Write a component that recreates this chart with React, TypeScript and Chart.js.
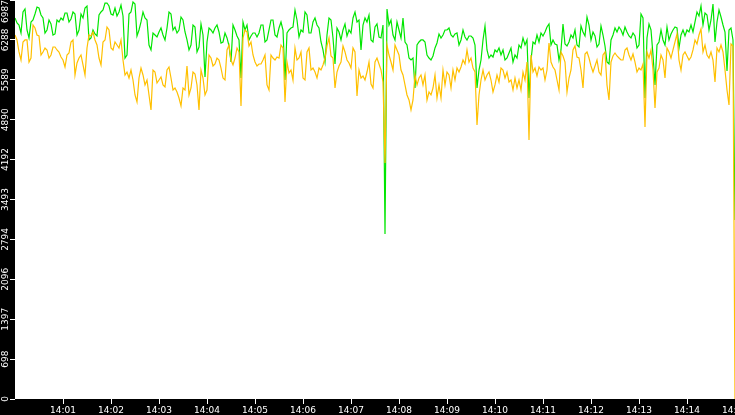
import React, { useEffect, useRef } from "react";
import { Chart, registerables } from "chart.js";

Chart.register(...registerables);

// one sample every 2.5 seconds, 14:00:00 .. 14:15:00
const greenValues = [
  6672, 6584, 6549, 6409, 6777, 6829, 6462, 6322, 6602, 6637,
  6742, 6864, 6847, 6724, 6672, 6409, 6462, 6637, 6567, 6374,
  6392, 6637, 6602, 6672, 6637, 6759, 6759, 6602, 6654, 6777,
  6742, 6374, 6462, 6742, 6672, 6847, 6882, 6287, 6322, 6462,
  6392, 6357, 6724, 6777, 6812, 6934, 6934, 6882, 6742, 6724,
  6847, 6707, 6777, 6899, 6707, 5971, 6024, 6742, 6777, 6952,
  6917, 6357, 6462, 6602, 6777, 6672, 6637, 6199, 6112, 6409,
  6374, 6339, 6427, 6497, 6374, 6287, 6497, 6777, 6742, 6462,
  6514, 6409, 6462, 6689, 6637, 6427, 6287, 6112, 6199, 6549,
  6514, 6077, 6164, 6567, 6374, 5639, 6252, 6497, 6462, 6409,
  6497, 6549, 6427, 6234, 6252, 6409, 6322, 6182, 5901, 6549,
  6462, 6357, 6287, 5621, 6602, 6462, 6549, 6287, 6357, 6409,
  6409, 6339, 6409, 6549, 6549, 6252, 6287, 6462, 6637, 6637,
  6374, 6339, 6497, 6602, 6462, 5586, 6409, 6462, 6497, 6514,
  6812, 6637, 6339, 6462, 6427, 6777, 6724, 6409, 6409, 6602,
  6672, 6549, 6497, 6252, 6112, 5901, 6374, 6672, 6637, 6322,
  5866, 6497, 6427, 6287, 6462, 6567, 6357, 6462, 6409, 6672,
  6777, 6602, 6637, 6112, 6549, 6672, 6602, 6724, 6287, 6252,
  6514, 6567, 6339, 6322, 6549, 2890, 6829, 6549, 6637, 6374,
  6287, 6602, 6462, 6322, 6672, 6252, 6199, 5971, 5936, 5971,
  5446, 6199, 6252, 6287, 6287, 6252, 6024, 5971, 5936, 6007,
  6147, 6234, 6392, 6322, 6374, 6462, 6462, 6497, 6374, 6339,
  6392, 6409, 6199, 6287, 6462, 6339, 6287, 6357, 6357, 6322,
  6199, 5446, 5761, 5936, 6287, 6532, 6112, 5971, 6024, 5989,
  6112, 6077, 6147, 6024, 6112, 5936, 5971, 6059, 6147, 5901,
  6024, 5971, 6199, 6147, 6322, 6199, 6287, 5271, 5936, 6252,
  6217, 6374, 6252, 6409, 6357, 6427, 6514, 6567, 6199, 6287,
  6217, 6199, 5936, 6112, 6567, 6217, 6182, 6252, 6374, 6322,
  6462, 6199, 6164, 6532, 6427, 6357, 6689, 6549, 6287, 6427,
  6357, 6164, 6217, 6532, 6374, 6182, 5901, 5866, 6287, 6374,
  6497, 6427, 6514, 6462, 6374, 6514, 6427, 6357, 6322, 6409,
  6357, 6147, 6199, 6742, 6672, 5271, 6322, 6567, 6462, 6024,
  5499, 6199, 6252, 6462, 6287, 6199, 6514, 6287, 6392, 6462,
  6514, 6497, 6147, 6374, 6462, 6357, 6462, 6427, 6549, 6427,
  6602, 6777, 6707, 6882, 6549, 6759, 6724, 6462, 6637, 6917,
  6252, 6602, 6812, 6689, 6549, 6427, 5744, 6462, 6497, 6287,
  3135,
];

const orangeValues = [
  6374, 6287, 6077, 5936, 6252, 6287, 6287, 5901, 5971, 6549,
  6497, 6374, 6357, 6024, 6077, 6147, 6112, 5971, 6024, 6164,
  6164, 6112, 6077, 5989, 5936, 5814, 6024, 6059, 6252, 6287,
  5674, 5884, 5971, 6024, 5849, 5674, 6147, 6374, 6357, 6427,
  6287, 6199, 5971, 5849, 6252, 6287, 6514, 6462, 6147, 6112,
  6252, 6199, 6147, 6287, 5936, 5674, 5726, 5621, 5761, 5586,
  5324, 5201, 5621, 5796, 5674, 5499, 5586, 5324, 5061, 5761,
  5726, 5534, 5586, 5639, 5499, 5464, 5761, 5814, 5621, 5411,
  5446, 5376, 5271, 5131, 5446, 5411, 5831, 5324, 5446, 5726,
  5691, 5499, 5061, 5761, 5621, 5324, 5411, 6024, 5971, 5831,
  5866, 5971, 5936, 5796, 5621, 5586, 6112, 6199, 5936, 5849,
  5971, 6147, 6077, 5131, 6322, 6462, 6427, 6182, 6252, 6024,
  5901, 5831, 5866, 5866, 5936, 6024, 5499, 5411, 6024, 5971,
  5936, 5989, 5971, 6199, 6147, 5201, 5901, 5709, 5761, 5586,
  6147, 5936, 5971, 6077, 5621, 5586, 6077, 6147, 5761, 5796,
  5726, 5621, 5796, 5761, 5849, 5971, 6182, 6322, 6007, 5971,
  5446, 5726, 5831, 5901, 6182, 6077, 5936, 5884, 5796, 6147,
  6077, 5306, 5761, 5621, 5656, 5586, 5726, 5901, 5516, 5446,
  5901, 5971, 5866, 5761, 5551, 4133, 6199, 6024, 5901, 5761,
  6199, 6112, 6024, 5761, 5674, 5499, 5324, 5236, 5061, 5236,
  5674, 5499, 5621, 5674, 5499, 5674, 5236, 5376, 5324, 5446,
  5674, 5271, 5499, 5271, 5761, 5499, 5726, 5674, 5446, 5761,
  5586, 5796, 5726, 5814, 5936, 5866, 6112, 5901, 5971, 5796,
  5726, 4798, 5324, 5586, 5761, 5586, 5674, 5726, 5586, 5376,
  5499, 5674, 5551, 5796, 5761, 5621, 5726, 5551, 5586, 5411,
  5621, 5446, 5586, 5411, 5726, 5586, 5901, 4536, 6024, 5726,
  5796, 5656, 5814, 5761, 5796, 5586, 5761, 6234, 5901, 5814,
  5761, 5586, 5411, 6077, 6007, 5901, 5376, 5621, 5761, 6112,
  6182, 5989, 5971, 5761, 5446, 6042, 6077, 5971, 5831, 5726,
  5831, 5936, 5726, 5674, 6024, 6077, 5499, 5236, 5901, 6007,
  6059, 6007, 5971, 5936, 5936, 6112, 6147, 6024, 5936, 6042,
  5901, 5726, 5796, 5761, 5866, 4763, 6077, 5971, 6112, 5761,
  5096, 5726, 5796, 6024, 5936, 5621, 6147, 6077, 5971, 6112,
  6252, 6392, 5936, 5761, 6024, 6077, 6007, 5936, 5989, 6112,
  6287, 6217, 6374, 6479, 6077, 6199, 6024, 5971, 6077, 5936,
  5551, 6147, 6077, 6199, 6077, 5761, 5411, 5148, 6217, 6182,
  0,
];

const sampleSeconds = greenValues.map((_, i) => i * 2.5);

const xTickSeconds = [60, 120, 180, 240, 300, 360, 420, 480, 540, 600, 660, 720, 780, 840, 900];
const xTickLabels = [
  "14:01", "14:02", "14:03", "14:04", "14:05", "14:06", "14:07", "14:08",
  "14:09", "14:10", "14:11", "14:12", "14:13", "14:14", "14:15",
];

const yTickValues = [0, 698.7, 1397.4, 2096.1, 2794.8, 3493.5, 4192.2, 4890.9, 5589.6, 6288.3, 6987];
const yTickLabels = ["0", "698", "1397", "2096", "2794", "3493", "4192", "4890", "5589", "6288", "6987"];

const whitePlot = {
  id: "whitePlot",
  beforeDraw(chart: Chart) {
    const { ctx, chartArea } = chart;
    ctx.save();
    ctx.fillStyle = "#ffffff";
    ctx.fillRect(chartArea.left, chartArea.top, chartArea.right - chartArea.left, chartArea.bottom - chartArea.top);
    ctx.restore();
  },
};

export default function App() {
  const canvasRef = useRef<HTMLCanvasElement | null>(null);

  useEffect(() => {
    document.body.style.margin = "0";
    if (!canvasRef.current) return;

    const tickFont = { family: "DejaVu Sans", size: 9 };

    const chart = new Chart(canvasRef.current, {
      type: "line",
      data: {
        datasets: [
          {
            label: "orange",
            data: orangeValues.map((v, i) => ({ x: sampleSeconds[i], y: v })),
            borderColor: "#ffc000",
            borderWidth: 1.2,
            pointRadius: 0,
            tension: 0,
          },
          {
            label: "green",
            data: greenValues.map((v, i) => ({ x: sampleSeconds[i], y: v })),
            borderColor: "#00e600",
            borderWidth: 1.2,
            pointRadius: 0,
            tension: 0,
          },
        ],
      },
      options: {
        animation: false,
        responsive: true,
        maintainAspectRatio: false,
        layout: { padding: 0 },
        plugins: {
          legend: { display: false },
          tooltip: { enabled: false },
        },
        scales: {
          x: {
            type: "linear",
            min: 0,
            max: 900,
            border: { display: false },
            grid: { drawOnChartArea: false, drawTicks: true, tickLength: 5, tickColor: "#ffffff" },
            afterBuildTicks: (scale: any) => {
              scale.ticks = xTickSeconds.map((v) => ({ value: v }));
            },
            afterFit: (scale: any) => {
              scale.height = 16;
              scale.paddingLeft = 0;
              scale.paddingRight = 0;
            },
            ticks: {
              autoSkip: false,
              maxRotation: 0,
              padding: 1,
              color: "#ffffff",
              font: tickFont,
              callback: (_v: any, i: number) => xTickLabels[i],
            },
          },
          y: {
            type: "linear",
            min: 0,
            max: 6987,
            border: { display: false },
            grid: { drawOnChartArea: false, drawTicks: true, tickLength: 5, tickColor: "#ffffff" },
            afterBuildTicks: (scale: any) => {
              scale.ticks = yTickValues.map((v) => ({ value: v }));
            },
            afterFit: (scale: any) => {
              scale.width = 15;
              scale.paddingTop = 0;
              scale.paddingBottom = 0;
            },
            ticks: {
              autoSkip: false,
              minRotation: 90,
              maxRotation: 90,
              crossAlign: "center",
              padding: -18.4,
              color: "#ffffff",
              font: tickFont,
              // top label is padded so it sits inside the canvas
              callback: (_v: any, i: number) =>
                i === yTickLabels.length - 1 ? yTickLabels[i] + "        " : yTickLabels[i],
            },
          },
        },
      },
      plugins: [whitePlot],
    } as any);

    return () => chart.destroy();
  }, []);

  return (
    <div style={{ width: 735, height: 415, background: "#000000", overflow: "hidden", position: "relative" }}>
      <canvas ref={canvasRef} />
    </div>
  );
}
